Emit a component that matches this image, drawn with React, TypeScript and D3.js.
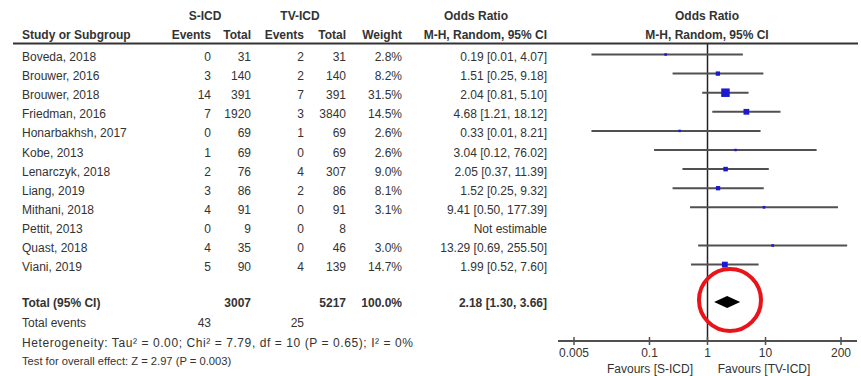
import React from 'react';
import * as d3 from 'd3';

const studies = ['Boveda, 2018', 'Brouwer, 2016', 'Brouwer, 2018', 'Friedman, 2016', 'Honarbakhsh, 2017', 'Kobe, 2013',
    'Lenarczyk, 2018', 'Liang, 2019', 'Mithani, 2018', 'Pettit, 2013', 'Quast, 2018', 'Viani, 2019'];
const sEvents = [0, 3, 14, 7, 0, 1, 2, 3, 4, 0, 4, 5];
const sTotal = [31, 140, 391, 1920, 69, 69, 76, 86, 91, 9, 35, 90];
const tvEvents = [2, 2, 7, 3, 1, 0, 4, 2, 0, 0, 0, 4];
const tvTotal = [31, 140, 391, 3840, 69, 69, 307, 86, 91, 8, 46, 139];
const weights = [2.8, 8.2, 31.5, 14.5, 2.6, 2.6, 9.0, 8.1, 3.1, null, 3.0, 14.7];
const oddsRatio = [0.19, 1.51, 2.04, 4.68, 0.33, 3.04, 2.05, 1.52, 9.41, null, 13.29, 1.99];
const ciLow = [0.01, 0.25, 0.81, 1.21, 0.01, 0.12, 0.37, 0.25, 0.50, null, 0.69, 0.52];
const ciHigh = [4.07, 9.18, 5.10, 18.12, 8.21, 76.02, 11.39, 9.32, 177.39, null, 255.50, 7.60];

const total = { sTotal: 3007, tvTotal: 5217, weight: '100.0%', or: 2.18, lo: 1.30, hi: 3.66 };
const totalEvents = { s: 43, tv: 25 };
const heterogeneity = 'Heterogeneity: Tau² = 0.00; Chi² = 7.79, df = 10 (P = 0.65); I² = 0%';
const overallTest = 'Test for overall effect: Z = 2.97 (P = 0.003)';
const axisTicks = [0.005, 0.1, 1, 10, 200];

const fmt = d3.format('.2f');
const font = '"Liberation Sans", Arial, sans-serif';
const textColor = '#333';

const App = () => {
    const width = 861;
    const height = 376;

    const x = d3.scaleLog().domain([0.005, 200]).range([574, 841]);
    const rowY = (i: number) => 54.5 + i * 19.1;
    const boxSize = d3.scaleSqrt().domain([0, 31.5]).range([0, 8.5]);

    const cols = { study: 22, sEv: 211, sTot: 251, tvEv: 304, tvTot: 346, weight: 402, or: 547 };
    const axisY = 341;
    const totalY = 302;

    const t = (txt: any, px: number, py: number, anchor = 'end', bold = false, size = 12) => (
        <text x={px} y={py} textAnchor={anchor} fontWeight={bold ? 'bold' : 'normal'} fontSize={size}>{txt}</text>
    );

    return (
        <svg width={width} height={height} style={{ position: 'absolute', left: 0, top: 0, background: '#fff' }}
            fontFamily={font} fill={textColor}>
            {/* headers */}
            {t('S-ICD', 205, 20, 'middle', true)}
            {t('TV-ICD', 300, 20, 'middle', true)}
            {t('Odds Ratio', 476, 20, 'middle', true)}
            {t('Odds Ratio', 707, 20, 'middle', true)}
            {t('Study or Subgroup', cols.study, 39, 'start', true)}
            {t('Events', cols.sEv, 39, 'end', true)}
            {t('Total', cols.sTot, 39, 'end', true)}
            {t('Events', cols.tvEv, 39, 'end', true)}
            {t('Total', cols.tvTot, 39, 'end', true)}
            {t('Weight', cols.weight, 39, 'end', true)}
            {t('M-H, Random, 95% CI', cols.or, 39, 'end', true)}
            {t('M-H, Random, 95% CI', 707, 39, 'middle', true)}
            <line x1={13} x2={858} y1={43.5} y2={43.5} stroke="#333" strokeWidth={2} />

            {/* study rows */}
            {studies.map((s, i) => {
                const by = rowY(i) + 6.5;
                return (
                    <g key={s}>
                        {t(s, cols.study, by, 'start')}
                        {t(sEvents[i], cols.sEv, by)}
                        {t(sTotal[i], cols.sTot, by)}
                        {t(tvEvents[i], cols.tvEv, by)}
                        {t(tvTotal[i], cols.tvTot, by)}
                        {weights[i] != null && t(d3.format('.1f')(weights[i] as number) + '%', cols.weight, by)}
                        {oddsRatio[i] != null
                            ? t(`${fmt(oddsRatio[i] as number)} [${fmt(ciLow[i] as number)}, ${fmt(ciHigh[i] as number)}]`, cols.or, by)
                            : t('Not estimable', cols.or, by)}
                    </g>
                );
            })}

            {/* totals */}
            {t('Total (95% CI)', cols.study, totalY + 4.5, 'start', true)}
            {t(total.sTotal, cols.sTot, totalY + 4.5, 'end', true)}
            {t(total.tvTotal, cols.tvTot, totalY + 4.5, 'end', true)}
            {t(total.weight, cols.weight, totalY + 4.5, 'end', true)}
            {t(`${fmt(total.or)} [${fmt(total.lo)}, ${fmt(total.hi)}]`, cols.or, totalY + 4.5, 'end', true)}
            {t('Total events', cols.study, 327, 'start')}
            {t(totalEvents.s, cols.sEv, 327)}
            {t(totalEvents.tv, cols.tvEv, 327)}
            <text x={cols.study} y={347} fontSize={12} textLength={391} lengthAdjust="spacing">{heterogeneity}</text>
            {t(overallTest, cols.study, 365, 'start', false, 11.2)}

            {/* forest plot */}
            <line x1={x(1)} x2={x(1)} y1={44} y2={axisY} stroke="#222" strokeWidth={1.5} />
            {studies.map((s, i) => {
                if (oddsRatio[i] == null) return null;
                const y = rowY(i);
                const sz = boxSize(weights[i] as number);
                return (
                    <g key={'p' + s}>
                        <line x1={x(ciLow[i] as number)} x2={x(ciHigh[i] as number)} y1={y} y2={y} stroke="#505050" strokeWidth={2} />
                        <rect x={x(oddsRatio[i] as number) - sz / 2} y={y - sz / 2} width={sz} height={sz} fill="#1a1ad0" />
                    </g>
                );
            })}
            <path
                d={`M${x(total.lo)},${totalY} L${x(total.or)},${totalY - 6} L${x(total.hi)},${totalY} L${x(total.or)},${totalY + 6} Z`}
                fill="#000" />

            {/* axis */}
            <line x1={558} x2={857} y1={axisY} y2={axisY} stroke="#505050" strokeWidth={2} />
            {axisTicks.map(v => (
                <g key={v}>
                    <line x1={x(v)} x2={x(v)} y1={axisY - 4} y2={axisY + 4} stroke="#505050" strokeWidth={1.5} />
                    {t(v, x(v), 357, 'middle')}
                </g>
            ))}
            {t('Favours [S-ICD]', 650, 373, 'middle')}
            {t('Favours [TV-ICD]', 764, 373, 'middle')}

            {/* highlight */}
            <circle cx={730} cy={300} r={31} fill="none" stroke="#e8141a" strokeWidth={4} />
        </svg>
    );
};

export default App;
